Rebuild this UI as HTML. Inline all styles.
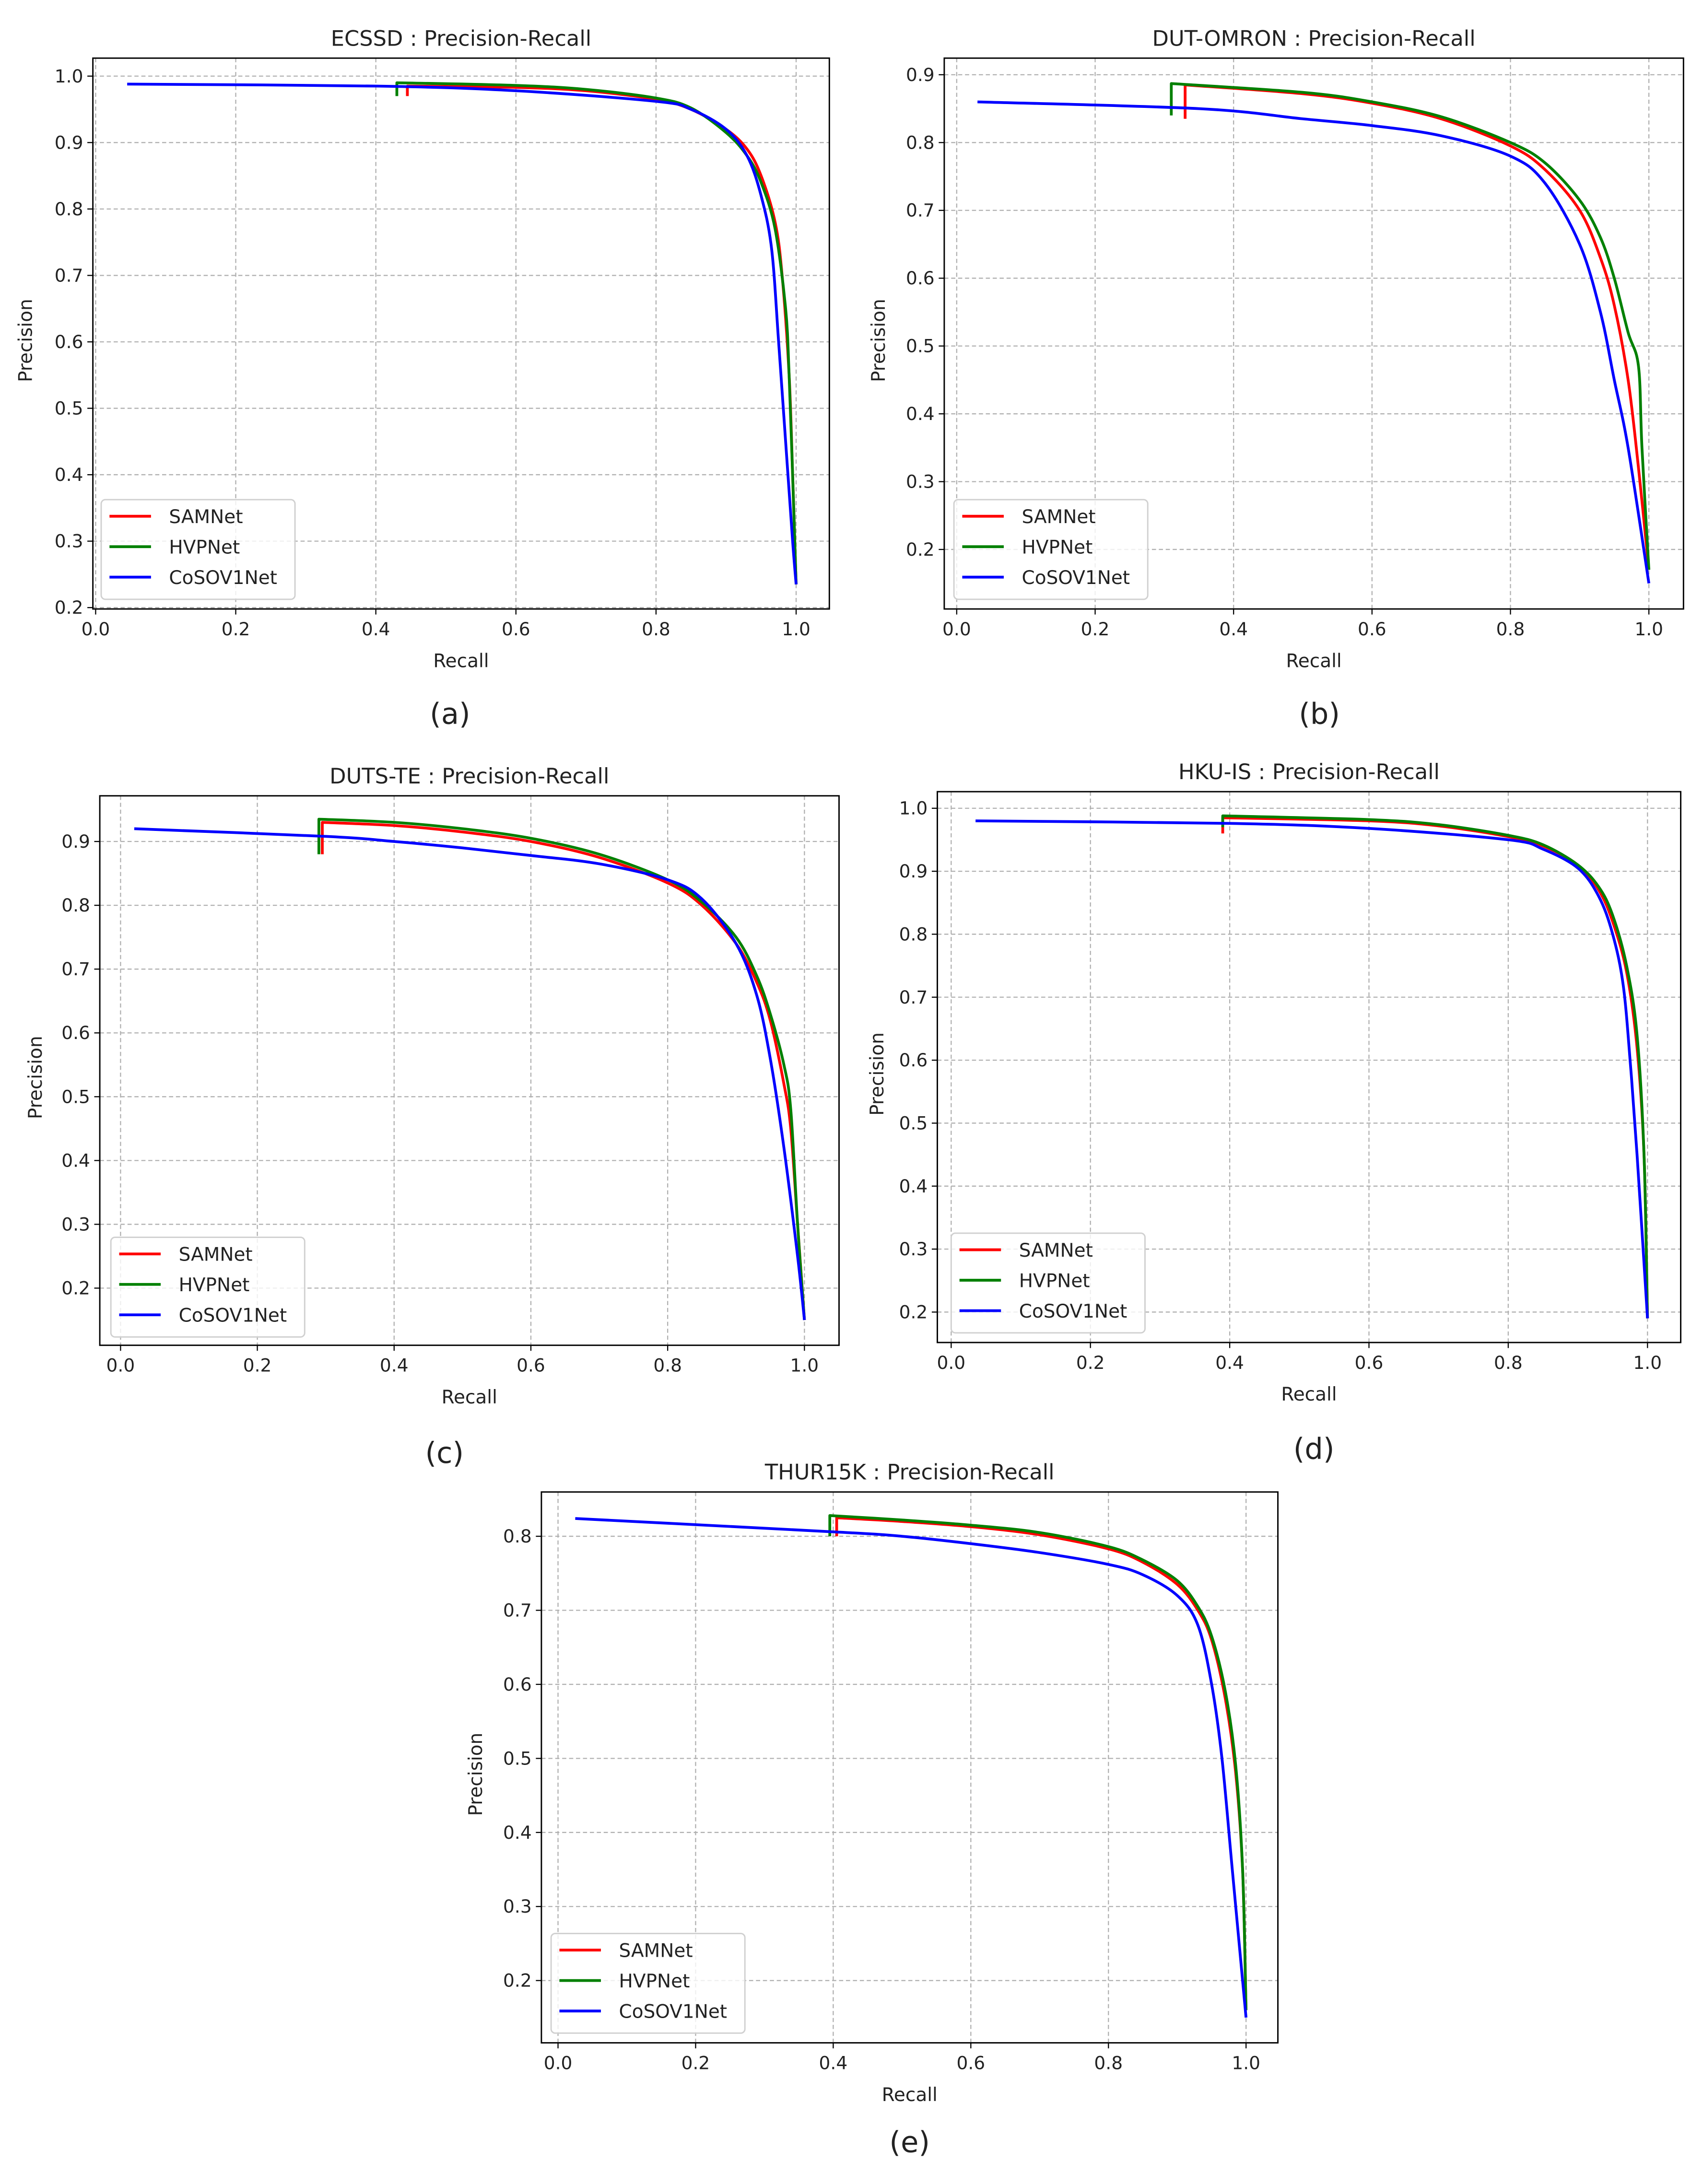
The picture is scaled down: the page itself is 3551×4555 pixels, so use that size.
<!DOCTYPE html>
<html><head><meta charset="utf-8"><style>
html,body{margin:0;padding:0;background:#fff}
svg{display:block}
text{font-family:"DejaVu Sans","Liberation Sans",sans-serif;fill:#222}
</style></head><body>
<svg id="fig" width="3551" height="4555" viewBox="0 0 1230 1578" xmlns="http://www.w3.org/2000/svg"></svg>
<script>
// ---- data arrays ----
const ecssdSamRecall=[0.445,0.445,0.6,0.7,0.8,0.85,0.9,0.93,0.95,0.97,0.98,0.99,0.995,1.0];
const ecssdSamPrec=[0.97,0.985,0.983,0.978,0.965,0.95,0.92,0.89,0.85,0.78,0.70,0.55,0.40,0.235];
const ecssdHvpRecall=[0.43,0.43,0.6,0.7,0.8,0.85,0.9,0.93,0.95,0.97,0.985,0.99,0.995,1.0];
const ecssdHvpPrec=[0.97,0.99,0.986,0.98,0.967,0.952,0.915,0.88,0.84,0.77,0.65,0.55,0.40,0.235];
const ecssdCosRecall=[0.045,0.4,0.6,0.8,0.85,0.9,0.93,0.95,0.965,0.975,0.985,0.995,1.0];
const ecssdCosPrec=[0.988,0.985,0.978,0.962,0.95,0.92,0.88,0.82,0.74,0.60,0.45,0.30,0.235];

const dutoSamRecall=[0.33,0.33,0.5,0.6,0.7,0.8,0.85,0.9,0.93,0.95,0.97,0.985,1.0];
const dutoSamPrec=[0.835,0.885,0.872,0.858,0.835,0.795,0.76,0.70,0.63,0.56,0.45,0.32,0.17];
const dutoHvpRecall=[0.31,0.31,0.5,0.6,0.7,0.8,0.85,0.9,0.93,0.95,0.97,0.985,0.99,1.0];
const dutoHvpPrec=[0.84,0.887,0.874,0.86,0.838,0.80,0.77,0.715,0.66,0.60,0.52,0.47,0.35,0.17];
const dutoCosRecall=[0.03,0.35,0.5,0.6,0.7,0.8,0.85,0.9,0.93,0.95,0.97,1.0];
const dutoCosPrec=[0.86,0.85,0.835,0.825,0.81,0.78,0.74,0.65,0.55,0.45,0.35,0.15];

const dutsSamRecall=[0.295,0.295,0.4,0.5,0.6,0.7,0.8,0.85,0.9,0.93,0.95,0.97,0.98,0.99,1.0];
const dutsSamPrec=[0.88,0.93,0.925,0.915,0.90,0.875,0.835,0.80,0.74,0.68,0.62,0.52,0.45,0.30,0.15];
const dutsHvpRecall=[0.29,0.29,0.4,0.5,0.6,0.7,0.8,0.85,0.9,0.93,0.95,0.97,0.98,0.99,1.0];
const dutsHvpPrec=[0.88,0.935,0.93,0.92,0.905,0.88,0.84,0.805,0.75,0.69,0.63,0.55,0.48,0.30,0.15];
const dutsCosRecall=[0.02,0.3,0.4,0.5,0.6,0.7,0.8,0.85,0.9,0.93,0.95,0.97,0.99,1.0];
const dutsCosPrec=[0.92,0.908,0.90,0.89,0.878,0.865,0.84,0.81,0.74,0.66,0.56,0.42,0.25,0.15];

const hkuSamRecall=[0.39,0.39,0.6,0.7,0.8,0.85,0.9,0.93,0.95,0.97,0.985,0.995,1.0];
const hkuSamPrec=[0.96,0.985,0.98,0.972,0.955,0.94,0.91,0.87,0.82,0.74,0.62,0.45,0.19];
const hkuHvpRecall=[0.39,0.39,0.6,0.7,0.8,0.85,0.9,0.93,0.95,0.97,0.985,0.995,1.0];
const hkuHvpPrec=[0.97,0.988,0.982,0.974,0.957,0.942,0.91,0.875,0.83,0.75,0.64,0.45,0.19];
const hkuCosRecall=[0.035,0.4,0.6,0.8,0.85,0.9,0.93,0.95,0.965,0.975,0.985,1.0];
const hkuCosPrec=[0.98,0.976,0.968,0.95,0.935,0.905,0.86,0.80,0.72,0.60,0.45,0.19];

const thurSamRecall=[0.405,0.405,0.5,0.6,0.7,0.8,0.85,0.9,0.93,0.95,0.97,0.985,0.995,1.0];
const thurSamPrec=[0.80,0.825,0.82,0.813,0.802,0.783,0.765,0.735,0.70,0.66,0.58,0.48,0.35,0.16];
const thurHvpRecall=[0.395,0.395,0.5,0.6,0.7,0.8,0.85,0.9,0.93,0.95,0.97,0.985,0.995,1.0];
const thurHvpPrec=[0.80,0.828,0.822,0.815,0.805,0.786,0.768,0.74,0.705,0.665,0.59,0.49,0.35,0.16];
const thurCosRecall=[0.025,0.4,0.5,0.6,0.7,0.8,0.85,0.9,0.93,0.95,0.965,0.98,1.0];
const thurCosPrec=[0.824,0.806,0.80,0.79,0.778,0.762,0.748,0.72,0.68,0.60,0.50,0.35,0.15];

const xTickLabels=["0.0","0.2","0.4","0.6","0.8","1.0"];
const seriesNames=["SAMNet","HVPNet","CoSOV1Net"];
const seriesColors=["#ff0000","#008000","#0000ff"];

// ---- layout ----
const NS="http://www.w3.org/2000/svg";
const svg=document.getElementById('fig');
function mk(tag,attrs,parent){const e=document.createElementNS(NS,tag);for(const k in attrs)e.setAttribute(k,attrs[k]);(parent||svg).appendChild(e);return e;}

function smoothPath(P){
  // P: array of [x,y]; vertical start tick drawn straight if first two x equal
  let d='M'+P[0][0].toFixed(2)+','+P[0][1].toFixed(2);
  let start=0;
  if(P.length>1 && Math.abs(P[0][0]-P[1][0])<0.01){d+=' L'+P[1][0].toFixed(2)+','+P[1][1].toFixed(2);start=1;}
  for(let i=start;i<P.length-1;i++){
    const p0=P[Math.max(i-1,start)],p1=P[i],p2=P[i+1],p3=P[Math.min(i+2,P.length-1)];
    const c1=[p1[0]+(p2[0]-p0[0])/6,p1[1]+(p2[1]-p0[1])/6];
    const c2=[p2[0]-(p3[0]-p1[0])/6,p2[1]-(p3[1]-p1[1])/6];
    d+=' C'+c1[0].toFixed(2)+','+c1[1].toFixed(2)+' '+c2[0].toFixed(2)+','+c2[1].toFixed(2)+' '+p2[0].toFixed(2)+','+p2[1].toFixed(2);
  }
  return d;
}

const panels=[
 {id:"ecssd",title:"ECSSD : Precision-Recall",cap:"(a)",box:[67,42,599,440],x0:69,xs:506,yRef:1.0,yRefPx:55,ys:4800,yt:[0.2,0.3,0.4,0.5,0.6,0.7,0.8,0.9,1.0],ylx:18,capPos:[325,516],
  series:[[ecssdSamRecall,ecssdSamPrec],[ecssdHvpRecall,ecssdHvpPrec],[ecssdCosRecall,ecssdCosPrec]],leg:[73,361]},
 {id:"dut-omron",title:"DUT-OMRON : Precision-Recall",cap:"(b)",box:[682,42,1216,440],x0:691,xs:500,yRef:0.9,yRefPx:54,ys:4900,yt:[0.2,0.3,0.4,0.5,0.6,0.7,0.8,0.9],ylx:634,capPos:[953,516],
  series:[[dutoSamRecall,dutoSamPrec],[dutoHvpRecall,dutoHvpPrec],[dutoCosRecall,dutoCosPrec]],leg:[689,361]},
 {id:"duts-te",title:"DUTS-TE : Precision-Recall",cap:"(c)",box:[72,575,606,972],x0:87,xs:494,yRef:0.9,yRefPx:608,ys:4610,yt:[0.2,0.3,0.4,0.5,0.6,0.7,0.8,0.9],ylx:25,capPos:[321,1050],
  series:[[dutsSamRecall,dutsSamPrec],[dutsHvpRecall,dutsHvpPrec],[dutsCosRecall,dutsCosPrec]],leg:[80,894]},
 {id:"hku-is",title:"HKU-IS : Precision-Recall",cap:"(d)",box:[677,572,1214,970],x0:687,xs:503,yRef:1.0,yRefPx:584,ys:4550,yt:[0.2,0.3,0.4,0.5,0.6,0.7,0.8,0.9,1.0],ylx:633,capPos:[949,1047],
  series:[[hkuSamRecall,hkuSamPrec],[hkuHvpRecall,hkuHvpPrec],[hkuCosRecall,hkuCosPrec]],leg:[687,891]},
 {id:"thur15k",title:"THUR15K : Precision-Recall",cap:"(e)",box:[391,1078,923,1476],x0:403,xs:497,yRef:0.8,yRefPx:1110,ys:5350,yt:[0.2,0.3,0.4,0.5,0.6,0.7,0.8],ylx:343,capPos:[657,1548],
  series:[[thurSamRecall,thurSamPrec],[thurHvpRecall,thurHvpPrec],[thurCosRecall,thurCosPrec]],leg:[398,1397]}
];

panels.forEach(p=>{
  const g=mk('g',{});
  
  
  const [L,T,R,B]=p.box;
  const X=v=>p.x0+v*p.xs;
  const Y=v=>p.yRefPx+(p.yRef-v)*p.ys/10;
  const clipId='clip-'+p.id;
  const cp=mk('clipPath',{id:clipId},g);mk('rect',{x:L,y:T,width:R-L,height:B-T},cp);
  xTickLabels.forEach(t=>{const v=parseFloat(t);const x=X(v);
    const gl=mk('line',{x1:x,x2:x,y1:T,y2:B,stroke:'#b0b0b0','stroke-width':0.8,'stroke-dasharray':'3,2'},g);
    
    mk('line',{x1:x,x2:x,y1:B,y2:B+4,stroke:'#000','stroke-width':0.8},g);
    const tx=mk('text',{x:x,y:B+19,'text-anchor':'middle','font-size':13},g);tx.textContent=t;
    
  });
  p.yt.forEach(v=>{const y=Y(v);
    const gl=mk('line',{x1:L,x2:R,y1:y,y2:y,stroke:'#b0b0b0','stroke-width':0.8,'stroke-dasharray':'3,2'},g);
    
    mk('line',{x1:L-4,x2:L,y1:y,y2:y,stroke:'#000','stroke-width':0.8},g);
    const tx=mk('text',{x:L-7,y:y+4.5,'text-anchor':'end','font-size':13},g);tx.textContent=v.toFixed(1);
    
  });
  const sg=mk('g',{'clip-path':'url(#'+clipId+')'},g);
  p.series.forEach((s,i)=>{
    const P=s[0].map((r,k)=>[X(r),Y(s[1][k])]);
    const pl=mk('path',{d:smoothPath(P),fill:'none',stroke:seriesColors[i],'stroke-width':2,'stroke-linejoin':'round'},sg);
    
    
  });
  const fr=mk('rect',{x:L,y:T,width:R-L,height:B-T,fill:'none',stroke:'#000','stroke-width':1},g);
  
  const ti=mk('text',{x:(L+R)/2,y:T-9,'text-anchor':'middle','font-size':15.5},g);ti.textContent=p.title;
  
  const xl=mk('text',{x:(L+R)/2,y:B+42,'text-anchor':'middle','font-size':13.5},g);xl.textContent='Recall';
  
  const cy=(T+B)/2;
  const yl=mk('text',{x:p.ylx,y:cy,'text-anchor':'middle','font-size':13.5,transform:'rotate(-90 '+(p.ylx+5)+' '+cy+')'},g);yl.textContent='Precision';
  
  const cap=mk('text',{x:p.capPos[0],y:p.capPos[1]+7,'text-anchor':'middle','font-size':21},g);cap.textContent=p.cap;
  
  const [lx,ly]=p.leg;
  const lg=mk('g',{},g);
  
  mk('rect',{x:lx,y:ly,width:140,height:72,rx:3,fill:'#fff','fill-opacity':0.8,stroke:'#d0d0d0','stroke-width':1},lg);
  seriesNames.forEach((n,i)=>{
    const yy=ly+12+i*22;
    const le=mk('g',{},lg);
    
    mk('line',{x1:lx+6,x2:lx+36,y1:yy,y2:yy,stroke:seriesColors[i],'stroke-width':2},le);
    const t=mk('text',{x:lx+49,y:yy+5,'font-size':13.5},le);t.textContent=n;
  });
});
</script>
</body></html>
